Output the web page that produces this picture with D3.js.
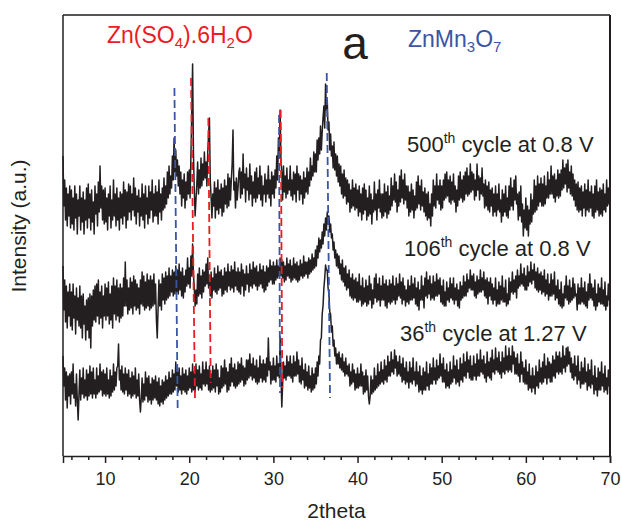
<!DOCTYPE html>
<html><head><meta charset="utf-8">
<script src="https://cdn.jsdelivr.net/npm/d3@7"></script>
<style>body{margin:0;background:#fff}svg{display:block}text{font-family:"Liberation Sans",Arial,sans-serif}</style>
</head><body><svg id="c" width="621" height="521"></svg>
<script>
// 2theta sampling grid
const thetaStart = 5, thetaStep = 0.1;
// Intensity (a.u.) of each pattern, one value per 0.1 deg from 5 to 70 (one row per degree)
const cycle500 = [
300,250,276,236,268,230,262,240,270,228,
266,232,258,226,270,238,262,222,256,240,
270,226,258,234,264,222,256,236,268,228,
272,238,262,226,266,234,254,222,270,242,
262,230,274,244,290,248,270,236,266,232,
268,234,258,226,262,240,270,228,256,236,
276,240,262,230,268,236,258,226,264,238,
262,232,274,240,266,228,264,236,272,244,
270,236,262,246,278,240,268,232,260,244,
266,230,258,240,272,236,262,228,270,242,
258,232,270,238,264,246,276,234,262,240,
270,240,264,232,276,244,262,236,268,246,
278,248,270,252,284,258,290,262,280,268,
300,276,318,284,306,280,296,270,290,262,
284,250,276,258,282,248,274,256,284,262,
286,258,300,342,392,304,266,240,256,272,
294,262,286,268,298,270,292,276,304,278,
294,270,304,322,338,276,258,238,262,250,
274,238,268,246,276,242,266,248,272,240,
268,244,276,252,270,248,282,250,278,256,
276,292,326,266,274,248,278,256,268,284,
288,258,284,262,302,268,282,254,288,266,
278,256,292,262,280,250,274,258,284,254,
288,258,278,262,290,256,280,250,270,262,
282,254,276,262,290,258,276,250,284,262,
280,258,286,268,300,276,318,300,346,296,
284,256,290,264,280,258,288,262,276,266,
290,260,276,256,284,262,282,254,290,266,
282,256,280,262,276,252,284,258,278,264,
288,262,284,270,298,276,290,280,304,284,
302,284,316,296,318,302,330,306,324,338,
350,328,372,346,356,326,334,306,322,300,
310,288,314,286,302,280,300,274,292,270,
290,262,282,258,286,260,278,252,276,254,
272,244,266,248,276,250,268,246,272,248,
266,240,270,244,262,236,268,242,272,246,
266,236,258,240,270,242,262,232,256,244,
274,246,262,236,266,248,276,244,262,238,
262,240,272,244,264,238,270,242,260,246,
278,250,270,256,282,254,274,244,266,250,
280,254,286,258,276,252,282,256,270,248,
270,240,264,244,272,246,266,238,260,246,
274,248,280,252,270,246,276,250,264,244,
268,240,262,236,264,238,252,230,262,240,
276,250,270,248,282,256,270,252,276,246,
270,248,276,256,282,258,284,260,276,254,
280,252,274,256,282,254,270,244,266,250,
280,256,284,258,276,254,280,256,284,262,
288,260,280,262,292,264,284,266,282,256,
276,260,292,266,280,256,278,262,288,260,
272,248,276,250,270,246,274,244,266,250,
268,240,262,244,270,240,262,246,272,244,
256,234,266,240,262,244,270,240,258,238,
270,246,278,250,268,246,276,256,280,252,
262,236,264,240,270,234,252,220,246,228,
258,226,250,220,246,232,262,234,256,242,
276,244,270,246,280,250,272,254,278,250,
272,250,280,252,270,258,284,258,276,262,
290,262,280,258,282,254,276,260,286,258,
282,260,286,266,296,268,288,272,292,264,
296,268,284,262,290,260,282,256,276,250,
272,246,274,244,268,246,270,240,264,248,
272,240,266,246,276,244,264,248,270,240,
262,238,270,244,276,246,264,240,268,242,
266,240,272,246,262,244,276,250,268,252,
270];
const cycle106 = [
190,146,176,134,170,128,164,140,172,130,
164,126,172,138,160,122,168,136,158,130,
170,128,160,118,162,132,150,116,156,126,
158,118,162,108,160,130,166,136,170,134,
172,140,176,132,164,138,170,128,160,140,
172,136,168,140,174,132,162,136,170,128,
178,142,170,136,176,140,168,134,172,138,
168,140,178,150,194,150,176,142,168,146,
178,148,174,142,180,150,176,146,172,148,
168,142,176,152,184,150,180,146,174,148,
182,150,176,146,180,148,176,150,182,152,
172,136,118,148,176,150,172,146,182,156,
178,152,184,156,180,158,188,160,180,164,
186,160,184,162,190,164,186,162,192,166,
184,160,188,158,180,164,186,170,198,172,
188,168,200,180,212,182,168,150,166,152,
182,160,188,162,180,158,186,164,184,170,
192,172,198,168,180,160,184,158,178,166,
188,164,182,162,190,166,184,168,186,160,
180,162,188,166,184,164,192,170,184,166,
190,168,186,164,194,170,184,166,188,164,
184,162,192,170,186,160,182,166,190,172,
182,164,192,170,186,168,194,172,188,170,
190,166,184,170,192,172,186,168,190,164,
184,166,190,170,188,174,196,176,190,172,
194,172,190,176,196,178,190,180,198,180,
196,178,194,174,190,176,198,180,192,178,
196,174,190,176,198,178,192,176,194,174,
190,176,196,180,192,178,200,180,194,182,
194,178,198,182,196,184,202,186,198,188,
206,190,210,198,218,204,216,208,224,212,
232,220,238,226,244,232,240,224,232,218,
222,206,214,198,206,190,202,188,200,182,
192,176,196,174,188,170,190,166,182,168,
186,160,178,158,182,156,176,158,178,154,
174,154,182,156,170,150,178,152,168,154,
176,150,170,152,180,156,172,148,166,152,
178,158,182,154,172,156,178,150,170,156,
180,156,172,150,176,148,170,154,176,152,
172,154,180,156,170,152,178,156,172,160,
182,158,174,152,178,156,170,150,166,154,
176,152,170,156,180,156,172,158,178,152,
168,150,174,146,166,156,180,156,170,148,
178,160,184,158,176,162,180,156,172,158,
180,156,174,160,182,160,176,162,178,154,
170,152,176,150,164,150,174,156,168,154,
178,158,172,156,178,152,168,156,172,150,
166,148,174,156,170,158,180,160,174,160,
182,164,176,168,186,166,180,166,182,160,
174,158,180,162,176,164,186,164,178,166,
184,160,176,158,178,152,174,160,178,156,
172,152,168,156,178,150,166,152,174,152,
170,156,180,154,168,154,176,150,162,152,
178,156,174,164,184,162,176,164,180,158,
186,168,180,170,192,172,182,170,188,166,
180,166,190,170,184,174,194,172,186,176,
192,168,184,166,188,164,182,166,184,162,
180,164,186,160,176,162,182,156,172,160,
182,160,176,162,184,156,170,158,176,152,
166,150,174,148,162,150,170,158,180,156,
170,152,176,154,168,156,178,158,172,160,
162,146,172,152,168,152,178,154,168,152,
174,150,164,148,172,156,182,158,172,156,
168,150,176,146,162,150,172,154,168,152,
178,152,166,150,174,146,160,150,172,156,
168];
const cycle36 = [
100,70,88,56,84,48,80,60,82,52,
84,62,92,58,72,50,82,56,36,62,
86,56,78,62,88,58,76,60,86,56,
82,60,90,62,84,58,88,62,76,58,
88,62,80,64,92,66,84,60,86,62,
82,60,88,62,76,58,86,60,80,64,
92,66,84,70,88,90,112,76,86,66,
90,64,82,62,88,66,82,60,86,62,
78,58,84,60,80,62,88,58,76,60,
82,56,44,58,78,54,72,56,84,60,
78,54,80,56,72,52,78,56,76,58,
80,56,74,52,78,50,70,54,76,52,
74,56,80,58,76,60,84,62,78,62,
86,64,82,66,94,70,84,64,88,66,
80,62,88,66,82,64,86,62,80,66,
88,68,84,64,92,66,84,64,92,70,
86,66,90,68,82,66,94,72,86,70,
94,72,86,66,90,64,82,66,90,68,
86,64,92,70,86,62,78,64,90,68,
88,70,96,72,88,64,84,66,92,70,
98,74,88,70,92,68,86,70,94,72,
92,74,98,76,90,70,88,72,96,76,
96,78,102,80,92,76,98,78,90,74,
96,72,88,74,100,78,92,74,96,76,
92,74,98,80,118,86,94,72,90,76,
98,76,90,74,100,80,92,78,119,82,
49,72,94,78,90,76,100,80,94,80,
100,78,92,74,100,80,94,80,104,82,
96,74,90,72,98,76,86,68,92,70,
84,66,90,68,80,64,88,66,82,68,
88,72,94,80,100,92,116,118,142,150,
168,178,191,186,186,168,162,144,142,124,
130,110,116,100,108,92,102,92,104,88,
98,86,102,84,94,80,98,82,90,80,
92,70,84,72,92,74,86,66,82,68,
88,68,82,70,92,70,84,62,80,64,
86,66,80,60,52,60,80,62,76,64,
88,66,80,68,92,70,84,72,94,74,
86,72,96,76,90,74,100,80,94,80,
104,84,96,82,106,88,100,80,94,82,
100,80,92,74,98,76,88,72,94,74,
84,68,94,74,88,72,98,76,84,70,
94,72,84,64,90,66,80,62,88,66,
84,66,94,70,82,66,92,72,88,72,
98,76,88,72,96,76,90,78,102,80,
92,74,98,74,86,68,92,70,84,68,
94,72,86,74,100,78,90,72,96,74,
86,70,98,76,92,74,102,80,94,78,
104,84,96,78,100,76,90,76,100,80,
92,76,102,80,96,80,106,84,96,82,
100,78,92,74,104,80,94,78,98,76,
106,84,96,82,108,86,98,84,104,82,
94,78,104,84,98,82,110,86,100,84,
108,86,100,84,110,92,104,82,98,82,
102,80,92,74,104,82,94,74,88,72,
96,72,84,66,92,68,80,64,88,68,
80,62,90,70,84,68,96,74,88,72,
94,74,102,78,90,72,98,78,94,74,
92,74,100,80,96,78,104,84,100,82,
104,84,98,82,110,88,100,84,108,90,
109,92,104,84,98,78,92,76,100,80,
90,72,100,76,84,68,94,72,88,72,
98,74,84,66,92,70,86,68,96,72,
80,62,90,66,78,60,88,66,84,66,
94,70,82,64,90,66,78,62,86,70,
73];
// reference markers: 2theta at top, 2theta at bottom, intensity top, intensity bottom
const markerPhase = ["ZnMn3O7","Zn(SO4).6H2O","Zn(SO4).6H2O","ZnMn3O7","Zn(SO4).6H2O","ZnMn3O7"];
const markerThetaTop = [18.24, 20.21, 22.27, 30.67, 30.87, 36.34];
const markerThetaBottom = [18.63, 20.69, 22.55, 30.79, 31.06, 36.73];
const markerTop = [368, 378, 338, 341, 346, 383];
const markerBottom = [44, 54, 73, 63, 68, 58];
const seriesNames = ["500th cycle at 0.8 V", "106th cycle at 0.8 V", "36th cycle at 1.27 V"];
const xMajorTicks = [10, 20, 30, 40, 50, 60, 70];
const xMinorTicks = [6, 8, 12, 14, 16, 18, 22, 24, 26, 28, 32, 34, 36, 38, 42, 44, 46, 48, 52, 54, 56, 58, 62, 64, 66, 68];

const svg = d3.select("#c");
const m = {l: 63, t: 15, r: 11, b: 65};
const W = 621 - m.l - m.r, H = 521 - m.t - m.b;
const x = d3.scaleLinear().domain([5, 70]).range([m.l, m.l + W]);
const y = d3.scaleLinear().domain([0, 441]).range([m.t + H, m.t]);
const red = "#ec1c24", blue = "#3a55a4", ink = "#231f20";

const line = d3.line().x((d, i) => x(thetaStart + i * thetaStep)).y(d => y(d));
[cycle500, cycle106, cycle36].forEach(s => {
  svg.append("path").attr("d", line(s)).attr("fill", "none").attr("stroke", ink)
     .attr("stroke-width", 1.5).attr("stroke-linejoin", "round");
});

markerPhase.forEach((p, i) => {
  svg.append("line")
    .attr("x1", x(markerThetaTop[i])).attr("x2", x(markerThetaBottom[i]))
    .attr("y1", y(markerTop[i])).attr("y2", y(markerBottom[i]))
    .attr("stroke", p === "ZnMn3O7" ? blue : red).attr("stroke-width", 1.8)
    .attr("stroke-dasharray", "8,4");
});

// frame
svg.append("line").attr("x1", m.l).attr("x2", m.l + W).attr("y1", m.t).attr("y2", m.t).attr("stroke", "#555").attr("stroke-width", 2);
svg.append("line").attr("x1", m.l + W).attr("x2", m.l + W).attr("y1", m.t).attr("y2", m.t + H).attr("stroke", ink).attr("stroke-width", 2);
svg.append("line").attr("x1", m.l).attr("x2", m.l).attr("y1", m.t).attr("y2", m.t + H).attr("stroke", ink).attr("stroke-width", 1.5);

const gx = svg.append("g").attr("transform", `translate(0,${m.t + H})`)
  .call(d3.axisBottom(x).tickValues(xMajorTicks).tickSize(7).tickPadding(9).tickFormat(d3.format("d")));
gx.select(".domain").attr("stroke", ink).attr("stroke-width", 1.5);
gx.selectAll(".tick line").attr("stroke", ink).attr("stroke-width", 1.5);
gx.selectAll("text").attr("font-size", 18).attr("fill", ink).attr("font-family", '"Liberation Sans",Arial,sans-serif');
const gm = svg.append("g").attr("transform", `translate(0,${m.t + H})`)
  .call(d3.axisBottom(x).tickValues(xMinorTicks).tickSize(4).tickFormat(""));
gm.select(".domain").remove();
gm.selectAll(".tick line").attr("stroke", ink).attr("stroke-width", 1.5);

svg.append("text").attr("x", x(37.5)).attr("y", 518).attr("text-anchor", "middle")
  .attr("font-size", 21).attr("fill", ink).text("2theta");
svg.append("text").attr("transform", "translate(26,226) rotate(-90)").attr("text-anchor", "middle")
  .attr("font-size", 21).attr("fill", ink).text("Intensity (a.u.)");

// phase labels
const t1 = svg.append("text").attr("x", 107).attr("y", 43).attr("font-size", 23).attr("fill", red);
t1.append("tspan").text("Zn(SO");
t1.append("tspan").attr("font-size", 15).attr("dy", 5).text("4");
t1.append("tspan").attr("dy", -5).text(").6H");
t1.append("tspan").attr("font-size", 15).attr("dy", 5).text("2");
t1.append("tspan").attr("dy", -5).text("O");
const t2 = svg.append("text").attr("x", 408).attr("y", 47).attr("font-size", 23).attr("fill", blue);
t2.append("tspan").text("ZnMn");
t2.append("tspan").attr("font-size", 15).attr("dy", 5).text("3");
t2.append("tspan").attr("dy", -5).text("O");
t2.append("tspan").attr("font-size", 15).attr("dy", 5).text("7");
svg.append("text").attr("x", 355).attr("y", 59).attr("text-anchor", "middle").attr("font-size", 46)
  .attr("fill", ink).text("a");

// series labels
const labelPos = [[407, 152], [404, 256], [400, 341]];
seriesNames.forEach((n, i) => {
  const parts = n.match(/^(\d+)(th)(.*)$/);
  const t = svg.append("text").attr("x", labelPos[i][0]).attr("y", labelPos[i][1]).attr("font-size", 22).attr("fill", ink);
  t.append("tspan").text(parts[1]);
  t.append("tspan").attr("font-size", 14).attr("dy", -9).text(parts[2]);
  t.append("tspan").attr("dy", 9).text(parts[3]);
});
</script></body></html>
